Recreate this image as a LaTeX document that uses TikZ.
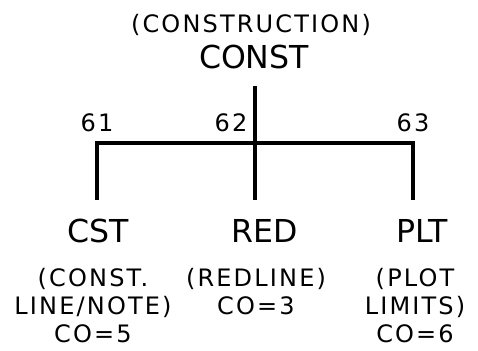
\documentclass[tikz,border=0pt]{standalone}
\usepackage{fontspec}
\setmainfont{DejaVu Sans}
\newfontfamily\cadfont{DejaVu Sans}[LetterSpace=9]
\usetikzlibrary{positioning}
\tikzset{
  caption/.style={font=\cadfont\fontsize{18}{21}\selectfont,inner sep=0pt,anchor=base},
  layer/.style={font=\fontsize{23.7}{28}\selectfont,inner sep=0pt,anchor=base},
  note/.style={caption,align=center},
  wire/.style={line width=2.6pt,line join=miter},
  trunk/.style={wire,shorten <=12.75pt,shorten >=14pt},
  drop/.style={wire,shorten <=14pt,shorten >=14pt},
}

\begin{document}
\begin{tikzpicture}[x=0.75pt,y=-0.75pt]
  \useasboundingbox (0,0) rectangle (478,350);
  % parent layer
  \node[caption] (title) at (251,32) {(CONSTRUCTION)};
  \node[layer] (root) at (254,68) {CONST};
  % level numbers
  \foreach \n/\x in {61/97,62/231,63/413}
    \node[caption] (n\n) at (\x,131) {\n};
  \coordinate (hub) at (255,143);
  \coordinate (lft) at (97,143);
  \coordinate (rgt) at (413,143);
  % child layers (notes sit on the baseline of their last line)
  \node[layer] (cst) at (98,242) {CST};
  \node[layer] (red) at (265,242) {RED};
  \node[layer] (plt) at (422,242) {PLT};
  \node[note] (cstd) at (93,342) {(CONST.\\LINE/NOTE)\\CO=5};
  \node[note] (redd) at (256,314) {(REDLINE)\\CO=3};
  \node[note] (pltd) at (415,342) {(PLOT\\LIMITS)\\CO=6};
  \draw[trunk] (hub |- root.south) -- (hub) -- (hub |- red.north);
  \draw[drop] (lft |- cst.north) -- (lft) -- (rgt) -- (rgt |- plt.north);
\end{tikzpicture}
\end{document}
